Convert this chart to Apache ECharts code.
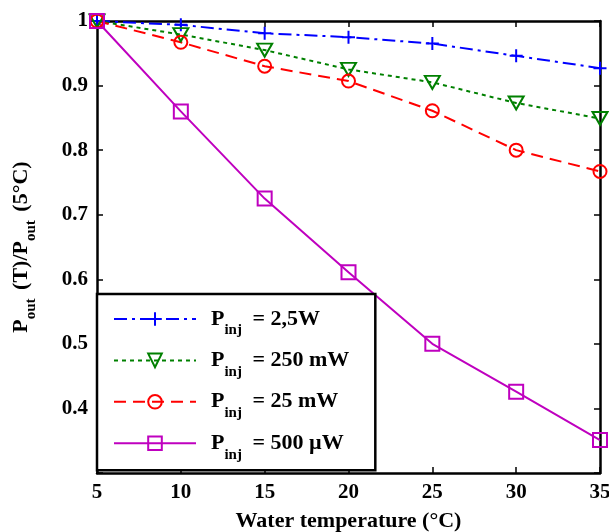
<!DOCTYPE html>
<html>
<head>
<meta charset="utf-8">
<script src="https://cdn.jsdelivr.net/npm/echarts@6/dist/echarts.min.js"></script>
<style>html,body{margin:0;padding:0;background:#fff;}#c{width:609px;height:532px;}</style>
</head>
<body>
<div id="c"></div>
<script>
var temps = [5, 10, 15, 20, 25, 30, 35];
var p2500mW = [1.0, 0.994, 0.981, 0.975, 0.965, 0.946, 0.927];
var p250mW = [1.0, 0.979, 0.955, 0.925, 0.905, 0.873, 0.849];
var p25mW = [1.0, 0.967, 0.930, 0.907, 0.861, 0.800, 0.767];
var p500uW = [1.0, 0.860, 0.725, 0.611, 0.500, 0.426, 0.351];
var legendValues = ['= 2,5W', '= 250 mW', '= 25 mW', '= 500 \u00B5W'];
var seriesNames = ['Pinj = 2,5W', 'Pinj = 250 mW', 'Pinj = 25 mW', 'Pinj = 500 \u00B5W'];
var xTicks = [5, 10, 15, 20, 25, 30, 35];
var yTickLabels = ['0.4', '0.5', '0.6', '0.7', '0.8', '0.9', '1'];

function pairs(ys) { return temps.map(function (t, i) { return [t, ys[i]]; }); }

var FONT = '"Liberation Serif", "Times New Roman", serif';
var colors = ['#0000ff', '#008000', '#ff0000', '#bf00bf'];
var symbols = [
  'path://M0,-1V1M-1,0H1',
  'path://M-1,-0.85L1,-0.85L0,0.85Z',
  'circle',
  'rect'
];
var sizes = [[13, 13], [15, 13], [13, 13], [14, 14]];
var dashes = [[13, 5, 3, 5], [4, 4], [12, 7], 'solid'];
var vals = [p2500mW, p250mW, p25mW, p500uW];

var series = vals.map(function (v, i) {
  return {
    name: seriesNames[i],
    type: 'line',
    data: pairs(v),
    xAxisIndex: 0,
    yAxisIndex: 0,
    symbol: symbols[i],
    symbolSize: sizes[i],
    symbolKeepAspect: false,
    showAllSymbol: true,
    lineStyle: { color: colors[i], width: 2, type: dashes[i] },
    itemStyle: { color: 'rgba(0,0,0,0)', borderColor: colors[i], borderWidth: 2 },
    emphasis: { disabled: true },
    animation: false,
    z: 2
  };
});

var chart = echarts.init(document.getElementById('c'), null, { renderer: 'canvas' });
chart.setOption({
  backgroundColor: '#fff',
  animation: false,
  grid: { left: 97, right: 9, top: 21, bottom: 59, containLabel: false, outerBoundsMode: 'none' },
  xAxis: [{
    type: 'value', min: 5, max: 35, interval: 5, position: 'bottom',
    name: 'Water temperature (\u00B0C)', nameLocation: 'middle', nameGap: 37,
    nameTextStyle: { fontFamily: FONT, fontWeight: 'bold', fontSize: 22, color: '#000' },
    axisLine: { show: true, lineStyle: { color: '#000', width: 2.5 } },
    axisTick: { show: true, inside: true, length: 6, lineStyle: { color: '#000', width: 1.5 } },
    axisLabel: { fontFamily: FONT, fontWeight: 'bold', fontSize: 21, color: '#000', margin: 9,
      formatter: function (v) { return xTicks.indexOf(v) >= 0 ? String(v) : ''; } },
    splitLine: { show: false }
  }, {
    type: 'value', min: 5, max: 35, interval: 5, position: 'top',
    axisLine: { show: true, lineStyle: { color: '#000', width: 2.5 } },
    axisTick: { show: true, inside: true, length: 6, lineStyle: { color: '#000', width: 1.5 } },
    axisLabel: { show: false }, splitLine: { show: false }
  }],
  yAxis: [{
    type: 'value', min: 0.3, max: 1, interval: 0.1, position: 'left',
    name: '{p|P}{s|out}{p| (T)/P}{s|out}{p| (5\u00B0C)}',
    nameLocation: 'middle', nameGap: 64, nameRotate: 90,
    nameTextStyle: {
      color: '#000',
      rich: {
        p: { fontFamily: FONT, fontWeight: 'bold', fontSize: 22, lineHeight: 23, verticalAlign: 'top', color: '#000' },
        s: { fontFamily: FONT, fontWeight: 'bold', fontSize: 15, lineHeight: 15, verticalAlign: 'top', padding: [14, 3, 0, 0], color: '#000' }
      }
    },
    axisLine: { show: true, lineStyle: { color: '#000', width: 2.5 } },
    axisTick: { show: true, inside: true, length: 6, lineStyle: { color: '#000', width: 1.5 } },
    axisLabel: { fontFamily: FONT, fontWeight: 'bold', fontSize: 21, color: '#000', margin: 9,
      formatter: function (v) {
        var s = (Math.round(v * 10) / 10).toString();
        if (s === '1') return '1';
        s = (Math.round(v * 10) / 10).toFixed(1);
        return yTickLabels.indexOf(s) >= 0 ? s : '';
      } },
    splitLine: { show: false }
  }, {
    type: 'value', min: 0.3, max: 1, interval: 0.1, position: 'right',
    axisLine: { show: true, lineStyle: { color: '#000', width: 2.5 } },
    axisTick: { show: true, inside: true, length: 6, lineStyle: { color: '#000', width: 1.5 } },
    axisLabel: { show: false }, splitLine: { show: false }
  }],
  legend: {
    orient: 'vertical',
    left: 97, top: 294,
    padding: [14, 26, 8, 16],
    itemWidth: 82, itemHeight: 17, itemGap: 11.4,
    backgroundColor: '#fff',
    borderColor: '#000', borderWidth: 2.5, borderRadius: 0,
    selectedMode: false,
    data: seriesNames,
    formatter: function (name) {
      var i = seriesNames.indexOf(name);
      return '{a|P}{s|inj}{p| ' + legendValues[i] + '}';
    },
    textStyle: {
      color: '#000',
      rich: {
        a: { fontFamily: FONT, fontWeight: 'bold', fontSize: 22, lineHeight: 22, verticalAlign: 'top', padding: [0, 0, 0, 10], color: '#000' },
        p: { fontFamily: FONT, fontWeight: 'bold', fontSize: 22, lineHeight: 22, verticalAlign: 'top', color: '#000' },
        s: { fontFamily: FONT, fontWeight: 'bold', fontSize: 15, lineHeight: 15, verticalAlign: 'top', padding: [15, 5, 0, 0], color: '#000' }
      }
    },
    z: 10
  },
  series: series
});
</script>
</body>
</html>
